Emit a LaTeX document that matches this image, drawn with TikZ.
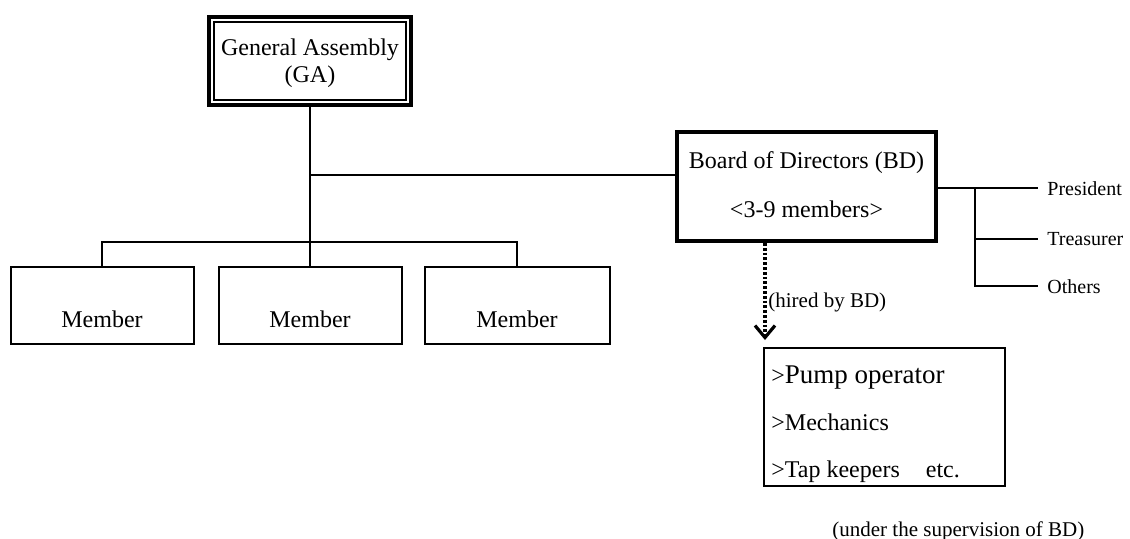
\documentclass[tikz,border=0pt]{standalone}
\usepackage{fontspec}
\setmainfont{Liberation Serif}
\usetikzlibrary{arrows.meta}
\begin{document}
\begin{tikzpicture}[x=0.5pt,y=-0.5pt,
  thinline/.style={line width=1pt},
  thinbox/.style={draw, line width=1pt, inner sep=0pt},
  thickbox/.style={draw, line width=2pt, inner sep=0pt},
  txt/.style={inner sep=0pt, font=\fontsize{12}{14.4}\selectfont},
  sidetxt/.style={inner sep=4.5pt, anchor=base west, font=\fontsize{10}{12}\selectfont},
  notetxt/.style={inner sep=0pt, anchor=base west, font=\fontsize{10.5}{12.6}\selectfont},
  hire/.style={line width=1.6pt, dash pattern=on 1.4pt off 1.0pt,
    -{Straight Barb[length=6pt,width=10pt,line width=1.6pt]}}
]
\useasboundingbox (0,0) rectangle (1130,538);

% General Assembly: thick outer frame with a thin inner frame
\node[thickbox, minimum width=101pt, minimum height=44pt] (ga) at (310,61) {};
\draw[line width=0.8pt] ([shift={(7,7)}]ga.north west) rectangle ([shift={(-7,-7)}]ga.south east);
\node[txt, anchor=base] (gat1) at (310,55) {General Assembly};
\node[txt, anchor=base] (gat2) at (310,82) {(GA)};

% Board of Directors
\node[thickbox, minimum width=129.5pt, minimum height=54.5pt] (bd) at (806.5,186.5) {};
\node[txt, anchor=base] (bdt1) at (806.5,168) {Board of Directors (BD)};
\node[txt, anchor=base] (bdt2) at (806.5,217) {<3-9 members>};

% Members
\node[thinbox, minimum width=91.5pt, minimum height=38.5pt] (m1) at (102,305) {};
\node[thinbox, minimum width=91.5pt, minimum height=38.5pt] (m2) at (310,305) {};
\node[thinbox, minimum width=92.5pt, minimum height=38.5pt] (m3) at (517,305) {};
\node[txt, anchor=base] (m1t) at (102,327) {Member};
\node[txt, anchor=base] (m2t) at (310,327) {Member};
\node[txt, anchor=base] (m3t) at (517,327) {Member};

% Staff box
\node[thinbox, minimum width=120.5pt, minimum height=69pt] (staff) at (884.5,417) {};
\node[txt, anchor=base west] (s1) at (771,383) {>\fontsize{13.5}{16}\selectfont Pump operator};
\node[txt, anchor=base west] (s2) at (771,430) {>Mechanics};
\node[txt, anchor=base west] (s3) at (771,477) {>Tap keepers\hspace{13pt}etc.};

% Officers
\node[sidetxt] (pres) at (1038,195) {President};
\node[sidetxt] (tre) at (1038,245) {Treasurer};
\node[sidetxt] (oth) at (1038,293) {Others};

% Notes
\node[notetxt] (hired) at (768,307) {(hired by BD)};
\node[notetxt] (sup) at (832,536) {(under the supervision of BD)};

% Connectors
\coordinate (gaj) at (310,175);
\coordinate (busL) at (102,242);
\coordinate (busR) at (517,242);
\coordinate (rv) at (975,0);
\coordinate (hx) at (765,0);

\draw[thinline] (ga.south) -- (m2.north);
\draw[thinline] (gaj) -- (gaj -| bd.west);
\draw[thinline] (m1.north) -- (busL) -- (busR) -- (m3.north);
\draw[thinline] (bd.east |- pres.west) -- (pres.west);
\draw[thinline] (rv |- pres.west) -- (rv |- oth.west) -- (oth.west);
\draw[thinline] (rv |- tre.west) -- (tre.west);
\draw[hire, shorten >=3.5pt] (hx |- bd.south) -- (hx |- staff.north);
\end{tikzpicture}
\end{document}
